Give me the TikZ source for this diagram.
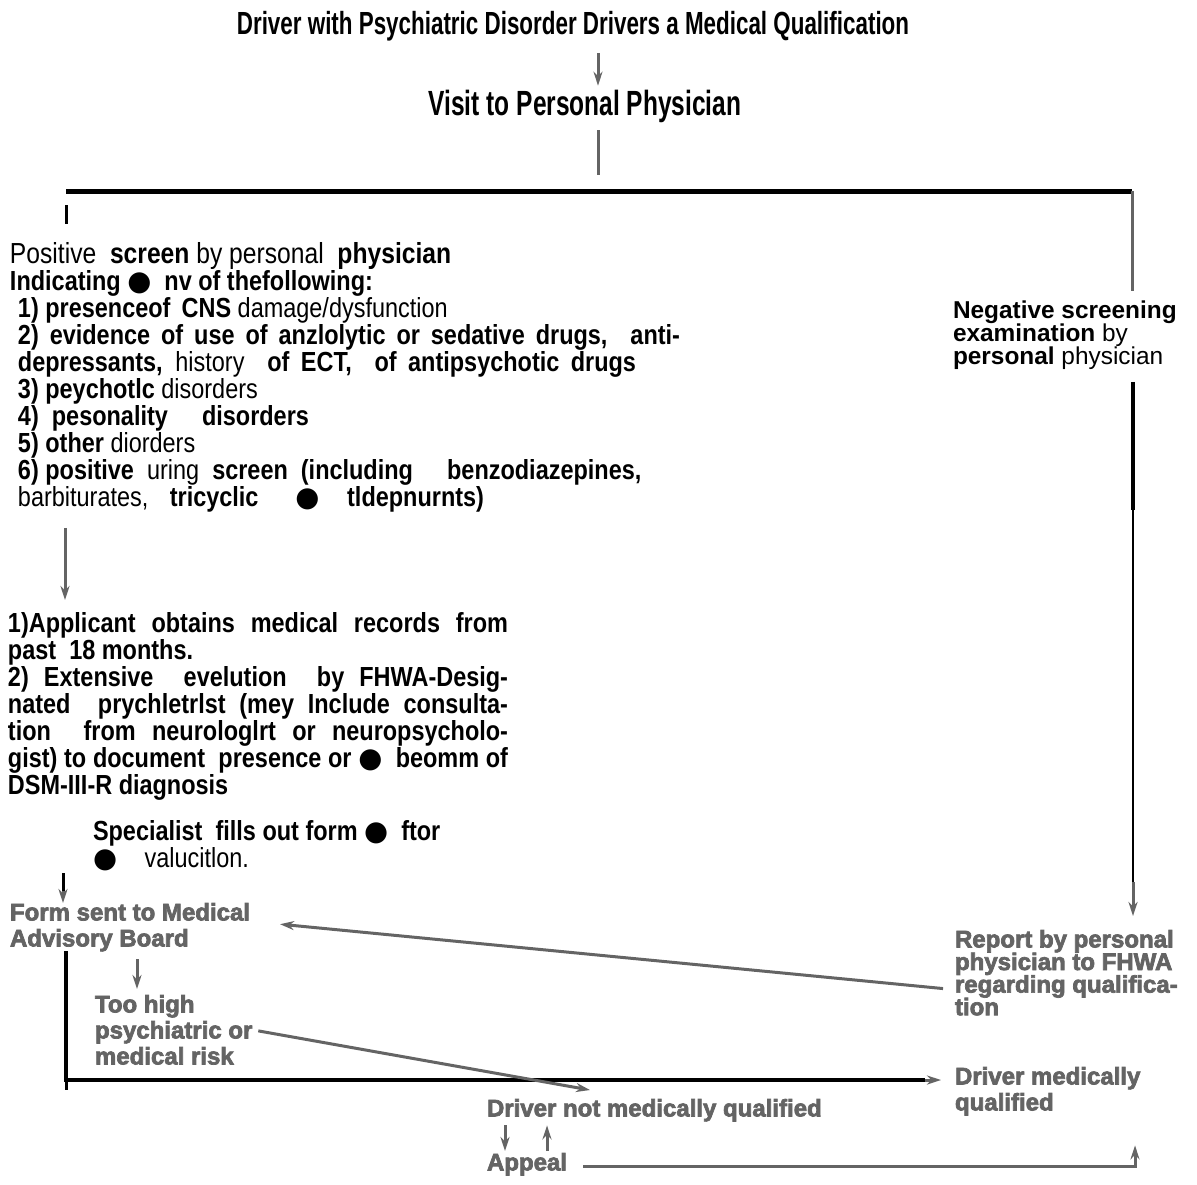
\documentclass[tikz,border=0pt]{standalone}
\usepackage{fontspec}
\setmainfont{Liberation Sans}
\newfontfamily\condfont[FakeStretch=0.7]{Liberation Sans}
\newfontfamily\narrowfont[FakeStretch=0.85]{Liberation Sans}
\newfontfamily\heavyfont[FakeBold=3]{Liberation Sans Bold}
\newfontfamily\symfont{DejaVu Sans}
\definecolor{ScanGray}{RGB}{100, 100, 100}
\newcommand{\blt}{{\symfont ●}}
\usepackage{tikz}
\usetikzlibrary{arrows.meta, positioning, calc}

\begin{document}
\begin{tikzpicture}[
            x=0.5pt, y=-0.5pt,
            every node/.style={inner sep=0pt, outer sep=0pt},
            head/.style={font=\condfont\bfseries\fontsize{16}{18}\selectfont},
            txt/.style={anchor=north west, align=left,
                        font=\narrowfont\bfseries\fontsize{13.8}{13.5}\selectfont},
            gtxt/.style={anchor=north west, align=left, text=ScanGray,
                         font=\heavyfont\fontsize{12}{13}\selectfont},
            arrow/.style={-{Stealth[length=7pt, width=4.5pt]}, ScanGray, line width=1.5pt},
            gline/.style={ScanGray, line width=1.5pt},
            bline/.style={black, line width=1.5pt},
            bar/.style={black, line width=2.5pt}
        ]
            \useasboundingbox (0,0) rectangle (1197,1184);

            % top of the chart
            \node[head] (title) at (573,26) {Driver with Psychiatric Disorder Drivers a Medical Qualification};
            \node[head, font=\condfont\bfseries\fontsize{17.5}{18}\selectfont] (visit) at (585,106) {Visit to Personal Physician};
            \coordinate (split) at (598,191);
            \coordinate (barl) at (66,191);
            \coordinate (barr) at (1132,191);

            % positive screen
            \node[txt] (pos) at (10,242) {{\fontsize{14.5}{13.5}\selectfont{\mdseries Positive} \ screen {\mdseries by personal} \ physician}\\
                Indicating \blt\ \ nv of thefollowing:\\
                \hspace*{4pt}1) presenceof \,CNS {\mdseries damage/dysfunction}\\
                \hspace*{4pt}\makebox[331pt][s]{2) evidence of use of anzlolytic or sedative drugs, \ anti-}\\
                \hspace*{4pt}\makebox[309pt][s]{depressants, {\mdseries history} \ of ECT, \ of antipsychotic drugs}\\
                \hspace*{4pt}3) peychotlc {\mdseries disorders}\\
                \hspace*{4pt}4) \ pesonality \quad disorders\\
                \hspace*{4pt}5) other {\mdseries diorders}\\
                \hspace*{4pt}6) positive \ {\mdseries uring} \ screen \ (including \quad benzodiazepines,\\
                \hspace*{4pt}\makebox[233pt][s]{{\mdseries barbiturates,} tricyclic \ \blt \quad tldepnurnts)}};
            \node[txt, text width=250pt, align=justify] (appl) at (8,612) {1)Applicant obtains medical records from\linebreak
                past \ 18 months.\\
                2) Extensive \ evelution \ by FHWA-Desig-\linebreak
                nated \ prychletrlst (mey Include consulta-\linebreak
                tion \ from neurologlrt or neuropsycholo-\linebreak
                gist) to document \ presence or \blt\ \ beomm of\linebreak
                DSM-III-R diagnosis};
            \node[txt] (spec) at (93,820) {Specialist \ fills out form \blt\ \ ftor\\
                \blt\quad {\mdseries valucitlon.}};

            % negative screen
            \node[txt, font=\bfseries\fontsize{12.2}{11.5}\selectfont] (neg) at (953,301) {Negative screening\\
                examination {\mdseries by}\\
                personal {\mdseries physician}};

            % board and outcomes
            \node[gtxt] (form) at (10,903) {Form sent to Medical\\Advisory Board};
            \node[gtxt] (risk) at (95,995) {Too high\\psychiatric or\\medical risk};
            \node[gtxt, font=\heavyfont\fontsize{12}{11.3}\selectfont] (report) at (955,930) {Report by personal\\physician to FHWA\\regarding qualifica-\\tion};
            \node[gtxt] (qual) at (955,1067) {Driver medically\\qualified};
            \node[gtxt] (notq) at (487,1099) {Driver not medically qualified};
            \node[gtxt] (appeal) at (487,1153) {Appeal};
            \coordinate (rmid) at (1133,510);
            \coordinate (rk) at (1133,882);
            \coordinate (tk) at (63,873);
            \coordinate (lc) at (66,1080);
            \coordinate (qin) at (925,1080);
            \coordinate (nqin) at (590,1090);
            \coordinate (ac) at (1135,1166);

            \draw[arrow, shorten <=6pt, shorten >=2pt] (title.south -| split) -- (visit.north -| split);
            \draw[gline, shorten <=4pt, shorten >=8pt] (visit.south -| split) -- (split);
            \draw[bar] (barl) -- (barr);
            \draw[bline, shorten <=7pt, shorten >=9pt] (barl) -- (barl |- pos.north);
            \draw[gline, shorten >=5pt] (barr) -- (barr |- neg.north);
            \draw[bline, line width=2pt, shorten <=6pt] (neg.south -| rmid) -- (rmid);
            \draw[bline, line width=1.2pt] (rmid) -- (rk);
            \draw[arrow, shorten >=7pt] (rk) -- (rk |- report.north);
            \draw[arrow, shorten <=8pt, shorten >=6pt] ([xshift=27.5pt]pos.south west) -- ([xshift=28.5pt]appl.north west);
            \draw[bline] (tk) -- ++(0,20);
            \draw[arrow, shorten <=9pt] (tk) -- (tk |- form.north);
            \draw[arrow, shorten <=4pt, shorten >=3pt] ([xshift=63.5pt]form.south west) -- ([xshift=21pt]risk.north west);
            \draw[arrow, shorten <=6pt] ([yshift=-8.5pt]report.west) -- ([xshift=15pt, yshift=1.5pt]form.east);
            \draw[bline, line width=2pt] (form.south -| lc) -- (lc) -- (qin);
            \draw[bline] (lc) -- ++(0,10);
            \draw[arrow, shorten >=7pt] (qin) -- (qin -| qual.west);
            \draw[arrow, shorten <=3pt] (risk.east) -- (nqin);
            \draw[arrow, shorten <=2pt, shorten >=1pt] ([xshift=9pt]notq.south west) -- ([xshift=9pt]appeal.north west);
            \draw[arrow, shorten <=1pt, shorten >=2pt] ([xshift=30pt]appeal.north west) -- ([xshift=30pt]notq.south west);
            \draw[arrow, shorten <=8pt, shorten >=15pt] (appeal.east |- ac) -- (ac) -- (ac |- qual.south);
        \end{tikzpicture}
\end{document}
